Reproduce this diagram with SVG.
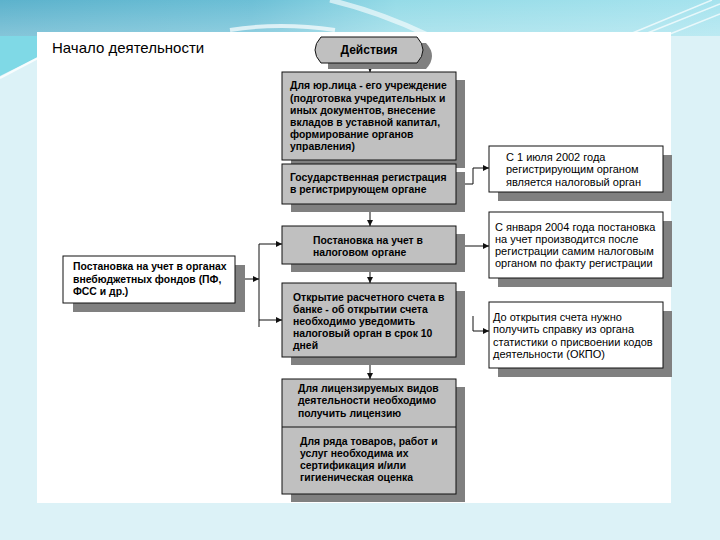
<svg xmlns="http://www.w3.org/2000/svg" width="720" height="540" viewBox="0 0 720 540">
<defs>
<linearGradient id="band" x1="0" y1="0" x2="1" y2="0">
<stop offset="0" stop-color="#5cb2cc"/>
<stop offset="0.35" stop-color="#6cbfd6"/>
<stop offset="0.55" stop-color="#95dbe7"/>
<stop offset="1" stop-color="#a6e3ee"/>
</linearGradient>
<linearGradient id="band2" x1="0" y1="0" x2="0" y2="1">
<stop offset="0" stop-color="#ffffff" stop-opacity="0"/>
<stop offset="1" stop-color="#ffffff" stop-opacity="0.25"/>
</linearGradient>
<marker id="ar" viewBox="0 0 6 6" refX="6" refY="3" markerWidth="6" markerHeight="6" markerUnits="userSpaceOnUse" orient="auto">
<path d="M0,0 L6,3 L0,6 z" fill="#111"/>
</marker>
<style>
.box{fill:#c0c0c0;stroke:#111;stroke-width:1}
.wbox{fill:#ffffff;stroke:#111;stroke-width:1}
.sh{fill:#808080}
.t{font-family:"Liberation Sans",Arial,sans-serif;font-size:11px;fill:#000}
.b{font-weight:bold;font-size:10.4px}
.con{stroke:#111;stroke-width:1;fill:none}
</style>
</defs>
<g id="background">
<rect x="0" y="0" width="720" height="540" fill="#dcf2f7"/>
<rect x="0" y="0" width="720" height="36" fill="url(#band)"/>
<rect x="0" y="0" width="720" height="36" fill="url(#band2)"/>
<polygon points="0,36 40,36 40,56 0,76" fill="#7fd9e6"/>
<path d="M0,78 L38,58" stroke="#ffffff" stroke-width="2" fill="none" opacity="0.8"/>
<path d="M230,30 Q280,22 335,30" stroke="#ffffff" stroke-width="4" fill="none" opacity="0.7"/>
<path d="M330,0 Q380,12 430,36" stroke="#ffffff" stroke-width="5" fill="none" opacity="0.6"/>
<path d="M720,4 L640,36 M720,14 L660,38 M712,0 L630,34" stroke="#ffffff" stroke-width="1.5" fill="none" opacity="0.7"/>
<rect x="37" y="32" width="634" height="471" fill="#ffffff"/>
</g>
<text class="t" x="52" y="53" style="font-size:15px">Начало деятельности</text>
<g id="connectors">
<path class="con" d="M370,63 V72" marker-end="url(#ar)"/>
<path class="con" d="M370,160 V164" marker-end="url(#ar)"/>
<path class="con" d="M370,204 V226" marker-end="url(#ar)"/>
<path class="con" d="M370,264 V283" marker-end="url(#ar)"/>
<path class="con" d="M370,357 V379" marker-end="url(#ar)"/>
<path class="con" d="M456,184 H473 V168 H489" marker-end="url(#ar)"/>
<path class="con" d="M456,246 H489" marker-end="url(#ar)"/>
<path class="con" d="M473,316 V331 H489" marker-end="url(#ar)"/>
<path class="con" d="M235,279 H259" marker-end="url(#ar)"/>
<path class="con" d="M259,327 V244 H282" marker-end="url(#ar)"/>
<path class="con" d="M259,320 H282" marker-end="url(#ar)"/>
</g>
<g id="n_actions">
<path class="sh" d="M328,43 H426 Q438,56 426,69 H328 Z"/>
<path class="box" d="M321,37 H417 Q429,50 417,63 H321 Q309,50 321,37 Z"/>
<text class="t" x="369" y="54" text-anchor="middle" style="font-size:12px;font-weight:bold">Действия</text>
</g>
<g id="n_urlico">
<rect class="sh" x="291" y="80" width="174" height="88"/>
<rect class="box" x="282" y="72" width="174" height="88"/>
<text class="t b"><tspan x="290" y="89">Для юр.лица - его учреждение</tspan><tspan x="290" y="102">(подготовка учредительных и</tspan><tspan x="290" y="114">иных документов, внесение</tspan><tspan x="290" y="126">вкладов в уставной капитал,</tspan><tspan x="290" y="138">формирование органов</tspan><tspan x="290" y="150">управления)</tspan></text>
</g>
<g id="n_gosreg">
<rect class="sh" x="291" y="172" width="174" height="40"/>
<rect class="box" x="282" y="164" width="174" height="40"/>
<text class="t b"><tspan x="290" y="181">Государственная  регистрация</tspan><tspan x="290" y="193">в регистрирующем органе</tspan></text>
</g>
<g id="n_nalog">
<rect class="sh" x="291" y="234" width="174" height="38"/>
<rect class="box" x="282" y="226" width="174" height="38"/>
<text class="t b"><tspan x="313" y="244">Постановка на учет в</tspan><tspan x="313" y="256">налоговом органе</tspan></text>
</g>
<g id="n_schet">
<rect class="sh" x="291" y="291" width="174" height="74"/>
<rect class="box" x="282" y="283" width="174" height="74"/>
<text class="t b"><tspan x="293" y="301">Открытие расчетного счета в</tspan><tspan x="293" y="313">банке - об открытии счета</tspan><tspan x="293" y="325">необходимо уведомить</tspan><tspan x="293" y="337">налоговый орган в срок 10</tspan><tspan x="293" y="349">дней</tspan></text>
</g>
<g id="n_license">
<rect class="sh" x="291" y="387" width="174" height="115"/>
<rect class="box" x="282" y="379" width="174" height="115"/>
<line class="con" x1="282" y1="427" x2="456" y2="427"/>
<text class="t b"><tspan x="298" y="392">Для лицензируемых видов</tspan><tspan x="298" y="404">деятельности необходимо</tspan><tspan x="298" y="417">получить лицензию</tspan></text>
<text class="t b"><tspan x="300" y="445">Для ряда товаров, работ и</tspan><tspan x="300" y="457">услуг необходима  их</tspan><tspan x="300" y="469">сертификация и/или</tspan><tspan x="300" y="481">гигиеническая оценка</tspan></text>
</g>
<g id="n_r1">
<rect class="sh" x="498" y="155" width="174" height="46"/>
<rect class="wbox" x="489" y="146" width="174" height="46"/>
<text class="t"><tspan x="506" y="161">С 1 июля 2002 года</tspan><tspan x="506" y="173">регистрирующим органом</tspan><tspan x="506" y="186">является налоговый орган</tspan></text>
</g>
<g id="n_r2">
<rect class="sh" x="498" y="221" width="174" height="66"/>
<rect class="wbox" x="489" y="212" width="174" height="66"/>
<text class="t"><tspan x="495" y="231">С января 2004 года постановка</tspan><tspan x="495" y="243">на учет производится после</tspan><tspan x="495" y="255">регистрации самим налоговым</tspan><tspan x="495" y="267">органом по факту регистрации</tspan></text>
</g>
<g id="n_r3">
<rect class="sh" x="498" y="311" width="174" height="66"/>
<rect class="wbox" x="489" y="302" width="174" height="66"/>
<text class="t"><tspan x="493" y="321">До открытия счета нужно</tspan><tspan x="493" y="333">получить справку из органа</tspan><tspan x="493" y="346">статистики о присвоении кодов</tspan><tspan x="493" y="358">деятельности (ОКПО)</tspan></text>
</g>
<g id="n_left">
<rect class="sh" x="73" y="265" width="172" height="47"/>
<rect class="wbox" x="63" y="256" width="172" height="47"/>
<text class="t b"><tspan x="73" y="270">Постановка на учет в органах</tspan><tspan x="73" y="283">внебюджетных фондов (ПФ,</tspan><tspan x="73" y="295">ФСС и др.)</tspan></text>
</g>
</svg>
